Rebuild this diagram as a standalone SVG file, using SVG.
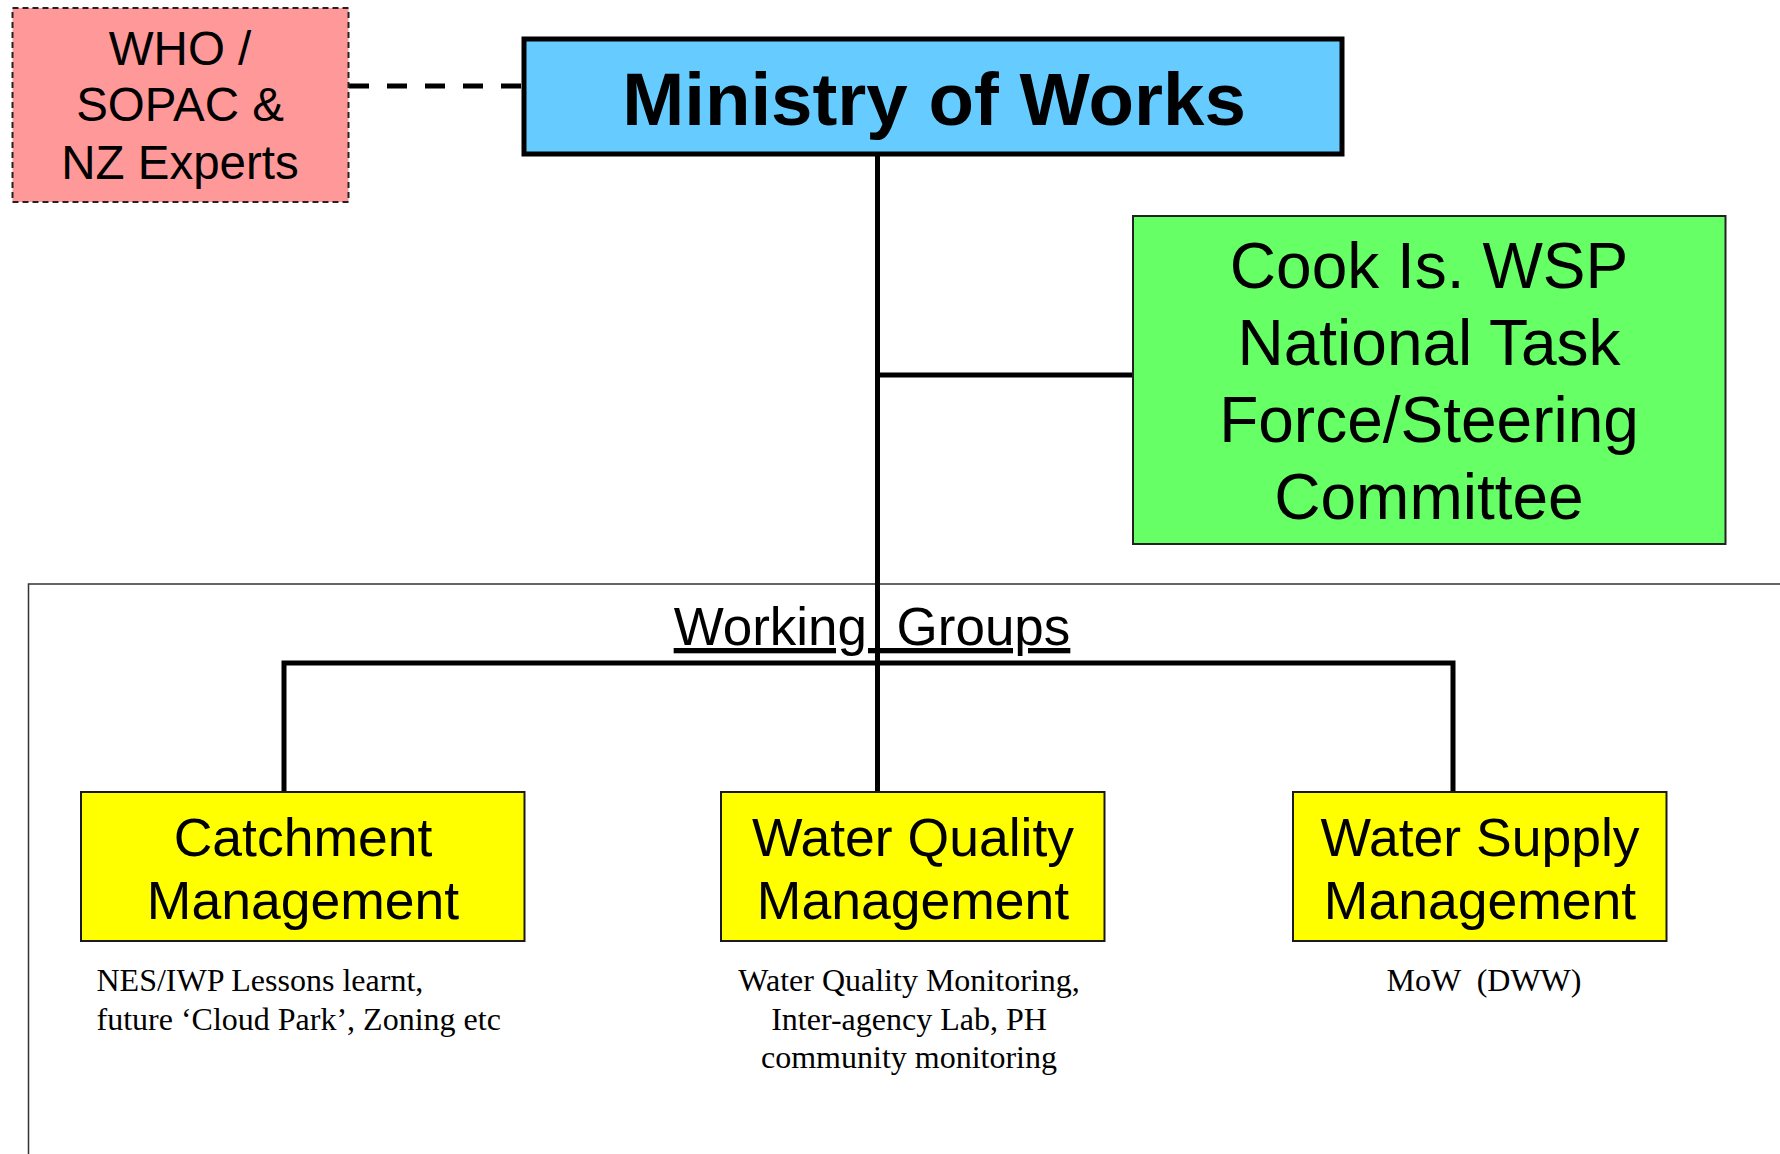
<svg xmlns="http://www.w3.org/2000/svg" width="1780" height="1154" viewBox="0 0 1780 1154">
<style>
.sans{font-family:"Liberation Sans",Arial,sans-serif;fill:#000;text-anchor:middle}
.serif{font-family:"Liberation Serif","Times New Roman",serif;fill:#000;font-size:32px}
.conn{stroke:#000;stroke-width:5;fill:none}
.yellow{fill:#FFFF00;stroke:#1a1a1a;stroke-width:2}
.big{font-size:53.5px}
</style>
<rect x="0" y="0" width="1780" height="1154" fill="#fff"/>
<rect id="frame" x="28.5" y="584" width="1800" height="600" fill="none" stroke="#333" stroke-width="1.5"/>
<g id="connectors">
<line class="conn" x1="349" y1="86" x2="524" y2="86" stroke-dasharray="20,18"/>
<line class="conn" x1="877.5" y1="154" x2="877.5" y2="792"/>
<line class="conn" x1="877.5" y1="375" x2="1133" y2="375"/>
<polyline class="conn" points="284,792 284,663 1453,663 1453,792"/>
</g>
<g id="who">
<rect x="12.5" y="8" width="336" height="194" fill="#FF9999" stroke="#222" stroke-width="2" stroke-dasharray="6,4"/>
<text class="sans" style="font-size:47.5px" x="180" y="65">WHO /</text>
<text class="sans" style="font-size:47.5px" x="180" y="121">SOPAC &amp;</text>
<text class="sans" style="font-size:47.5px" x="180" y="179">NZ Experts</text>
</g>
<g id="ministry">
<rect x="524" y="39" width="818" height="115" fill="#66CCFF" stroke="#000" stroke-width="5"/>
<text class="sans" style="font-size:74.5px;font-weight:bold" x="934" y="125">Ministry of Works</text>
</g>
<g id="taskforce">
<rect x="1133" y="216" width="592.5" height="328" fill="#66FF66" stroke="#222" stroke-width="2"/>
<text class="sans" style="font-size:64px" x="1429" y="288">Cook Is. WSP</text>
<text class="sans" style="font-size:64px" x="1429" y="365">National Task</text>
<text class="sans" style="font-size:64px" x="1429" y="442">Force/Steering</text>
<text class="sans" style="font-size:64px" x="1429" y="519">Committee</text>
</g>
<g id="working-groups-label">
<text class="sans" xml:space="preserve" style="font-size:53px;text-decoration:underline" x="872" y="645">Working  Groups</text>
</g>
<g id="catchment">
<rect class="yellow" x="81" y="792" width="443.5" height="149"/>
<text class="sans big" x="303" y="856">Catchment</text>
<text class="sans big" x="303" y="919">Management</text>
<text class="serif" x="96.5" y="991">NES/IWP Lessons learnt,</text>
<text class="serif" x="96.5" y="1030">future ‘Cloud Park’, Zoning etc</text>
</g>
<g id="water-quality">
<rect class="yellow" x="721" y="792" width="383.5" height="149"/>
<text class="sans big" x="913" y="856">Water Quality</text>
<text class="sans big" x="913" y="919">Management</text>
<text class="serif" text-anchor="middle" x="909" y="991">Water Quality Monitoring,</text>
<text class="serif" text-anchor="middle" x="909" y="1030">Inter-agency Lab, PH</text>
<text class="serif" text-anchor="middle" x="909" y="1068">community monitoring</text>
</g>
<g id="water-supply">
<rect class="yellow" x="1293" y="792" width="373.5" height="149"/>
<text class="sans big" x="1480" y="856">Water Supply</text>
<text class="sans big" x="1480" y="919">Management</text>
<text class="serif" text-anchor="middle" xml:space="preserve" x="1484" y="991">MoW  (DWW)</text>
</g>
</svg>
